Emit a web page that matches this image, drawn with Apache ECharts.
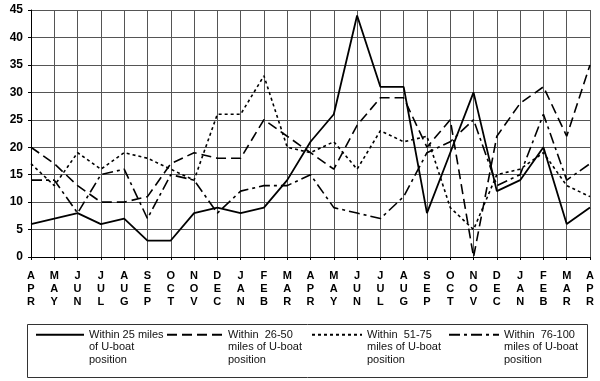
<!DOCTYPE html>
<html>
<head>
<meta charset="utf-8">
<script src="https://cdn.jsdelivr.net/npm/echarts@6/dist/echarts.min.js"></script>
<style>
html,body{margin:0;padding:0;background:#fff;}
#chart{width:600px;height:381px;}
</style>
</head>
<body>
<div id="chart"></div>
<script>
const categories = ['APR','MAY','JUN','JUL','AUG','SEP','OCT','NOV','DEC','JAN','FEB','MAR',
                    'APR','MAY','JUN','JUL','AUG','SEP','OCT','NOV','DEC','JAN','FEB','MAR','APR'];
const seriesNames = ['Within 25 miles\nof U-boat\nposition',
                     'Within  26-50\nmiles of U-boat\nposition',
                     'Within  51-75\nmiles of U-boat\nposition',
                     'Within  76-100\nmiles of U-boat\nposition'];
const within25  = [6,7,8,6,7,3,3,8,9,8,9,14,21,26,44,31,31,8,19,30,12,14,20,6,9];
const within50  = [20,17,13,10,10,11,17,19,18,18,25,22,19,16,24,29,29,20,25,0,22,28,31,22,35];
const within75  = [17,13,19,16,19,18,16,14,26,26,33,20,19,21,16,23,21,22,9,5,15,16,19,13,11];
const within100 = [14,14,8,15,16,7,15,14,8,12,13,13,15,9,8,7,11,19,21,25,13,15,26,14,17];
const yMin = 0, yMax = 45, yStep = 5;

const dataSets = [within25, within50, within75, within100];
const dashTypes = ['solid', [10,5], [3,3], [11,4,3,4]];
const widths = [1.8, 1.6, 1.6, 1.6];
const legendLeft = [35, 166, 311, 448];
const legendIconW = [48, 56, 50, 50];

const FONT = '"Liberation Sans", Arial, sans-serif';

const chart = echarts.init(document.getElementById('chart'), null, {renderer:'canvas'});
const option = {
  animation: false,
  backgroundColor: '#fff',
  grid: {left: 31, right: 10, top: 10, bottom: 124, containLabel: false},
  xAxis: {
    type: 'category', data: categories, boundaryGap: false,
    axisLine: {show: true, lineStyle: {color: '#000', width: 1}},
    axisTick: {show: true, length: 3, interval: 0, lineStyle: {color: '#000'}},
    splitLine: {show: true, interval: 0, lineStyle: {color: '#555', width: 1}},
    axisLabel: {
      interval: 0, margin: 12, color: '#000', fontFamily: FONT, fontSize: 11, fontWeight: 'bold',
      lineHeight: 13,
      formatter: v => v.split('').join('\n')
    }
  },
  yAxis: {
    type: 'value', min: yMin, max: yMax, interval: yStep,
    axisLine: {show: true, lineStyle: {color: '#000', width: 1}},
    axisTick: {show: true, length: 3, lineStyle: {color: '#000'}},
    splitLine: {show: true, lineStyle: {color: '#555', width: 1}},
    axisLabel: {margin: 8, color: '#000', fontFamily: FONT, fontSize: 12, fontWeight: 'bold'}
  },
  legend: seriesNames.map((n, i) => ({
    data: [n], left: legendLeft[i], top: 303, padding: 0,
    itemWidth: legendIconW[i], itemHeight: 10,
    selectedMode: false,
    itemStyle: {opacity: 0},
    formatter: name => '\n\n' + name,
    textStyle: {fontFamily: FONT, fontSize: 11, color: '#111', lineHeight: 12.7}
  })),
  graphic: [{
    type: 'rect', left: 25, top: 322, shape: {width: 560, height: 53},
    style: {fill: 'none', stroke: '#333', lineWidth: 1}, z: -1
  }],
  series: dataSets.map((d, i) => ({
    name: seriesNames[i], type: 'line', data: d, symbol: 'none',
    lineStyle: {color: '#000', width: widths[i], type: dashTypes[i]},
    itemStyle: {color: '#000'}
  }))
};
chart.setOption(option);
</script>
</body>
</html>
